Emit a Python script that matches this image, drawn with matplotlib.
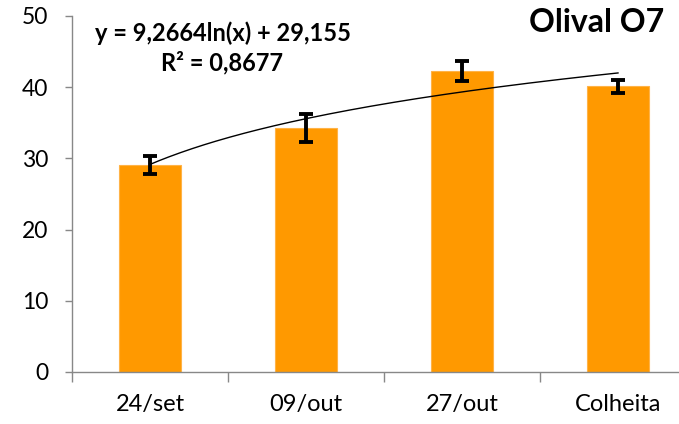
import numpy as np
import matplotlib
matplotlib.use("Agg")
import matplotlib.pyplot as plt

categories = ["24/set", "09/out", "27/out", "Colheita"]
values = [29.1, 34.3, 42.3, 40.1]
errors = [1.25, 1.95, 1.4, 0.85]
trend_a = 9.2664
trend_b = 29.155
yticks = [0, 10, 20, 30, 40, 50]

plt.rcParams['font.family'] = ['Lato', 'DejaVu Sans']

fig = plt.figure(figsize=(6.79, 4.24), dpi=100)
ax = fig.add_axes([72/679, 52/424, 624/679, 356/424])

x = np.arange(len(categories))
ax.bar(x, values, width=0.4, color='#FF9900', edgecolor='#FFB347', linewidth=0.8, zorder=2)
ax.errorbar(x, values, yerr=errors, fmt='none', ecolor='black', elinewidth=2.8,
            capsize=5, capthick=2.8, zorder=4)

xs = np.linspace(0, 3, 200)
ax.plot(xs, trend_a * np.log(xs + 1) + trend_b, color='black', linewidth=1.0, zorder=3)

ax.set_xlim(-0.5, 3.5)
ax.set_ylim(0, 50)
ax.set_yticks(yticks)
ax.set_yticklabels([str(t) for t in yticks])

ax.set_xticks(np.arange(-0.5, 3.6, 1.0))
ax.set_xticklabels([])
ax.set_xticks(x, minor=True)
ax.set_xticklabels(categories, minor=True)
ax.tick_params(axis='x', which='major', length=7, color='#888888', width=1, direction='out')
ax.tick_params(axis='x', which='minor', length=0, pad=16, labelsize=17)
ax.tick_params(axis='y', length=5, color='#888888', width=1, pad=12, labelsize=16.5)

for s in ['top', 'right']:
    ax.spines[s].set_visible(False)
for s in ['left', 'bottom']:
    ax.spines[s].set_color('#888888')
    ax.spines[s].set_linewidth(1)

fig.text(597/679, 1 - 22/424, "Olival O7", fontsize=23, fontweight='bold',
         ha='center', va='center')
fig.text(223/679, 1 - 33/424, "y = 9,2664ln(x) + 29,155", fontsize=17, fontweight='bold',
         ha='center', va='center')
fig.text(222/679, 1 - 63/424, "R² = 0,8677", fontsize=17, fontweight='bold',
         ha='center', va='center')

fig.savefig("out.png", dpi=100)
